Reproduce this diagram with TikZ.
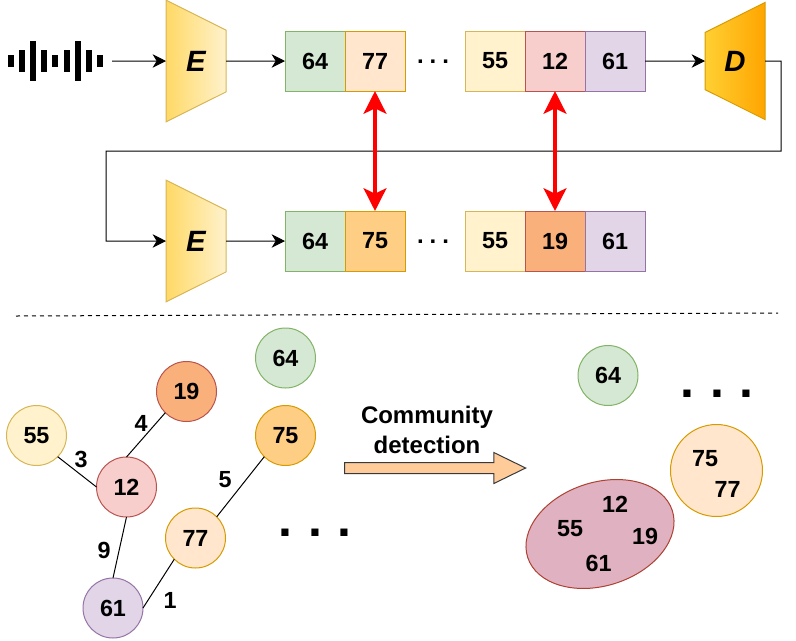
\documentclass[tikz,border=0pt]{standalone}
\usepackage{fontspec}
\setmainfont{Liberation Sans}
\usetikzlibrary{positioning, arrows.meta, shapes.geometric, shapes.arrows}
\newcommand{\numfont}{\fontsize{17.5}{22.5}\selectfont\bfseries}
\newcommand{\spreaddots}[1]{.\hspace{#1}.\hspace{#1}.}

\begin{document}
\begin{tikzpicture}[
	x=0.75pt, y=-0.75pt,
	tone64/.style={fill=green_fill, draw=green_line},
	tone77/.style={fill=orange_fill, draw=orange_line},
	tone75/.style={fill=amber_fill, draw=orange_line},
	tone55/.style={fill=yellow_fill, draw=yellow_line},
	tone12/.style={fill=red_fill, draw=red_line},
	tone19/.style={fill=peach_fill, draw=red_line},
	tone61/.style={fill=purple_fill, draw=purple_line},
	cell/.style={rectangle, line width=0.75pt, inner sep=0pt, outer sep=0pt, minimum width=45pt, minimum height=45pt, font=\numfont},
	vertex/.style={circle, line width=0.75pt, inner sep=0pt, outer sep=0pt, minimum size=45pt, font=\numfont},
	coder/.style={trapezium, trapezium angle=63.43, inner sep=0pt, outer sep=0pt, line width=0.75pt, minimum width=45pt, minimum height=45pt, font=\fontsize{22}{24}\selectfont\bfseries\itshape},
	encoder/.style={coder, shape border rotate=270, left color=enc_left, right color=enc_right, draw=yellow_line},
	decoder/.style={coder, shape border rotate=90, left color=dec_left, right color=dec_right, draw=orange_line},
	weight/.style={inner sep=0pt, font=\numfont},
	member/.style={inner sep=0pt, font=\numfont},
	dotsmall/.style={anchor=base, inner sep=0pt, font=\fontsize{18}{20}\selectfont\bfseries},
	dotlarge/.style={anchor=base, inner sep=0pt, font=\fontsize{37.5}{40}\selectfont\bfseries},
	link/.style={line width=0.75pt},
	flow/.style={line width=0.75pt, -{Stealth[length=10pt, width=10pt, inset=3pt]}},
	match/.style={red, line width=3pt, {Stealth[length=17pt, width=17pt, inset=4pt]}-{Stealth[length=17pt, width=17pt, inset=4pt]}}
]
\definecolor{green_fill}{HTML}{D5E8D4}
\definecolor{green_line}{HTML}{82B366}
\definecolor{orange_fill}{HTML}{FFE6CC}
\definecolor{orange_line}{HTML}{D79B00}
\definecolor{amber_fill}{HTML}{FFCE85}
\definecolor{yellow_fill}{HTML}{FFF2CC}
\definecolor{yellow_line}{HTML}{D6B656}
\definecolor{red_fill}{HTML}{F8CECC}
\definecolor{red_line}{HTML}{B85450}
\definecolor{peach_fill}{HTML}{FAB07A}
\definecolor{purple_fill}{HTML}{E1D5E7}
\definecolor{purple_line}{HTML}{9673A6}
\definecolor{group_fill}{HTML}{E0B1C0}
\definecolor{group_line}{HTML}{AE4132}
\definecolor{shaft_fill}{HTML}{FFCC99}
\definecolor{shaft_line}{HTML}{36393D}
\definecolor{enc_left}{HTML}{FFD966}
\definecolor{enc_right}{HTML}{FFF2CC}
\definecolor{dec_left}{HTML}{FFD033}
\definecolor{dec_right}{HTML}{FFA500}

\useasboundingbox (0,0) rectangle (796,640);

% waveform
\foreach \barx/\barh in {11/6, 22/11, 33/20, 44/11, 55/6, 67/11, 78/20, 89/11, 100/6}
	\fill (\barx-3,61-\barh) rectangle (\barx+3,61+\barh);
\coordinate (wave_output) at (112,61);

% first row
\node[encoder] (enc_top) at (196,61) {E};
\node[cell, tone64] (top_64) at (315,61) {64};
\node[cell, tone77, right=0pt of top_64] (top_77) {77};
\node[cell, tone55] (top_55) at (495,61) {55};
\node[cell, tone12, right=0pt of top_55] (top_12) {12};
\node[cell, tone61, right=0pt of top_12] (top_61) {61};
\node[dotsmall] (top_dots) at (433,63) {\spreaddots{4.5pt}};
\node[decoder] (dec) at (735,61) {D};

% second row
\node[encoder] (enc_bot) at (196,241) {E};
\node[cell, tone64] (bot_64) at (315,241) {64};
\node[cell, tone75, right=0pt of bot_64] (bot_75) {75};
\node[cell, tone55] (bot_55) at (495,241) {55};
\node[cell, tone19, right=0pt of bot_55] (bot_19) {19};
\node[cell, tone61, right=0pt of bot_19] (bot_61) {61};
\node[dotsmall] (bot_dots) at (433,243) {\spreaddots{4.5pt}};

\draw[flow] (wave_output) -- (enc_top);
\draw[flow] (enc_top) -- (top_64);
\draw[flow] (top_61) -- (dec);
\draw[flow] (dec.east) -- ++(16,0) -- ++(0,90) -| (106,241) -- (enc_bot.west);
\draw[flow] (enc_bot) -- (bot_64);
\draw[match] (top_77) -- (bot_75);
\draw[match] (top_12) -- (bot_19);

% separator
\coordinate (sep_left) at (16,316);
\coordinate (sep_right) at (778,313);
\draw[link, dashed] (sep_left) -- (sep_right);

% graph
\node[vertex, tone55] (v55) at (36.5,435.5) {55};
\node[vertex, tone19] (v19) at (186.5,391.5) {19};
\node[vertex, tone64] (v64) at (285.5,358) {64};
\node[vertex, tone75] (v75) at (285.5,435.5) {75};
\node[vertex, tone12] (v12) at (126.5,487) {12};
\node[vertex, tone77] (v77) at (195.5,538) {77};
\node[vertex, tone61] (v61) at (113,608) {61};

\draw[link] (v55.south east) -- (v12.west);
\draw[link] (v19.south west) -- (v12.north);
\draw[link] (v12.south) -- (v61.north);
\draw[link] (v61.east) -- (v77.south west);
\draw[link] (v77.north east) -- (v75.south west);

\node[weight] (w3) at (81,459) {3};
\node[weight] (w4) at (141,423) {4};
\node[weight] (w5) at (225,480) {5};
\node[weight] (w9) at (104,550) {9};
\node[weight] (w1) at (170,600) {1};
\node[dotlarge] (graph_dots) at (315,536) {\spreaddots{12pt}};

% community detection
\node[inner sep=0pt, align=center, font=\fontsize{18}{22.5}\selectfont\bfseries] (detect_label) at (427,430) {Community\\detection};
\node[single arrow, single arrow head extend=7.5pt, single arrow tip angle=52, inner xsep=0pt, inner ysep=3.75pt, outer sep=0pt, line width=0.75pt, fill=shaft_fill, draw=shaft_line, minimum height=135.75pt] (detect_arrow) at (429.5,468) {};

% communities
\node[vertex, tone64] (c64) at (608,375.5) {64};
\node[dotlarge] (group_dots) at (717,397) {\spreaddots{12pt}};
\node[ellipse, rotate=18, line width=0.75pt, inner sep=0pt, outer sep=0pt, fill=group_fill, draw=group_line, minimum width=114pt, minimum height=77.5pt] (group_a) at (600,534) {};
\node[circle, line width=0.75pt, inner sep=0pt, outer sep=0pt, tone77, minimum size=69pt] (group_b) at (716.5,470.5) {};
\node[member] (m75) at (705,459) {75};
\node[member] (m77) at (727.5,489) {77};
\node[member] (m12) at (615,504.5) {12};
\node[member] (m55) at (570,528.5) {55};
\node[member] (m19) at (645,536.5) {19};
\node[member] (m61) at (598.5,563) {61};
\end{tikzpicture}
\end{document}
